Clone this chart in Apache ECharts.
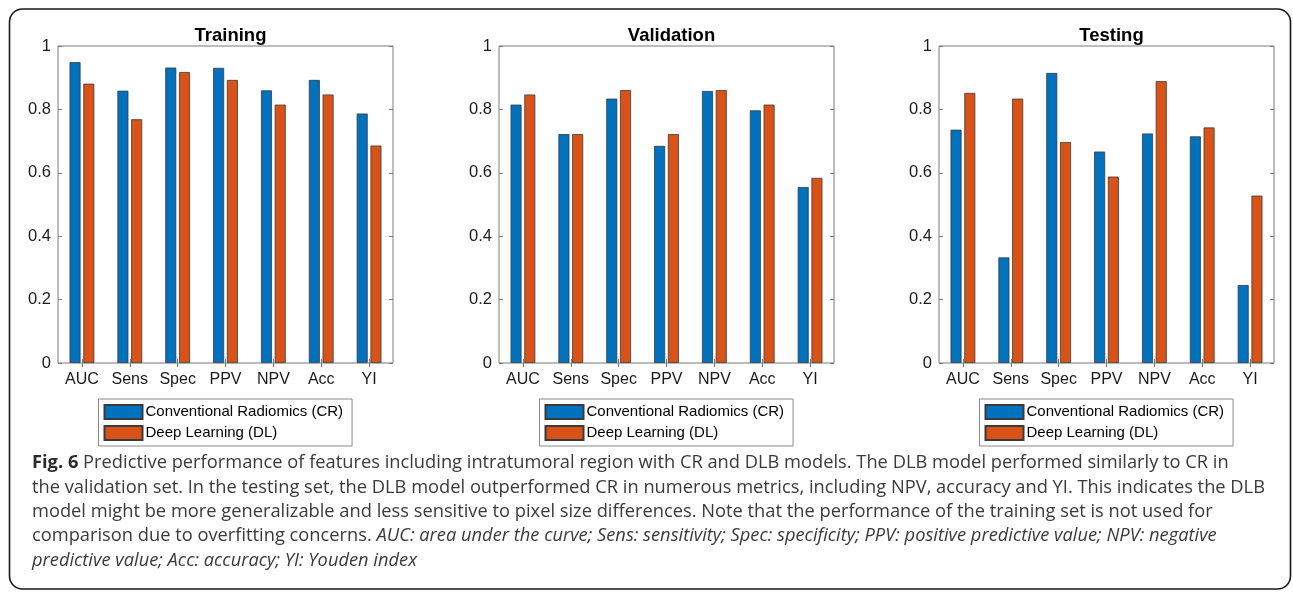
<!DOCTYPE html>
<html>
<head>
<meta charset="utf-8">
<script src="https://cdn.jsdelivr.net/npm/echarts@6/dist/echarts.min.js"></script>
<style>
  html, body { margin: 0; padding: 0; background: #fff; }
  #main { width: 1293px; height: 595px; }
</style>
</head>
<body>
<div id="main"></div>
<script>
var categories = ['AUC', 'Sens', 'Spec', 'PPV', 'NPV', 'Acc', 'YI'];
var panelTitles = ['Training', 'Validation', 'Testing'];
var seriesNames = ['Conventional Radiomics (CR)', 'Deep Learning (DL)'];

var trainCR = [0.949, 0.859, 0.932, 0.931, 0.860, 0.893, 0.787];
var trainDL = [0.881, 0.769, 0.918, 0.893, 0.815, 0.847, 0.686];
var valCR = [0.815, 0.722, 0.834, 0.685, 0.858, 0.797, 0.555];
var valDL = [0.847, 0.722, 0.861, 0.722, 0.861, 0.815, 0.584];
var testCR = [0.736, 0.333, 0.915, 0.667, 0.724, 0.715, 0.246];
var testDL = [0.852, 0.834, 0.697, 0.588, 0.889, 0.743, 0.528];

var yTicks = [0, 0.2, 0.4, 0.6, 0.8, 1];

var panelData = [[trainCR, trainDL], [valCR, valDL], [testCR, testDL]];
var panelLeft = [58, 499, 939];
var plotW = 335, plotTop = 46, plotH = 317;
var colors = ['#0072BD', '#D95319'];
var axisGray = '#7a7a7a';
var font = 'Liberation Sans, Arial, Helvetica, sans-serif';

var chart = echarts.init(document.getElementById('main'));

var grids = [], xAxes = [], yAxes = [], series = [], titles = [], legends = [];

panelTitles.forEach(function (name, p) {
  grids.push({
    left: panelLeft[p], top: plotTop, width: plotW, height: plotH,
    show: true, borderColor: axisGray, borderWidth: 1, backgroundColor: '#fff'
  });
  // bottom axis with labels, ticks pointing inward
  xAxes.push({
    type: 'category', gridIndex: p, position: 'bottom', data: categories,
    axisLine: { show: false },
    axisTick: { show: true, inside: true, alignWithLabel: true, length: 4, lineStyle: { color: axisGray } },
    axisLabel: { color: '#1a1a1a', fontSize: 16, fontFamily: font, margin: 9 }
  });
  // top mirror axis: ticks only
  xAxes.push({
    type: 'category', gridIndex: p, position: 'top', data: categories,
    axisLine: { show: false },
    axisTick: { show: true, inside: true, alignWithLabel: true, length: 4, lineStyle: { color: axisGray } },
    axisLabel: { show: false }
  });
  yAxes.push({
    type: 'value', gridIndex: p, position: 'left', min: 0, max: 1, interval: 0.2,
    axisLine: { show: false },
    axisTick: { show: true, inside: true, length: 4, lineStyle: { color: axisGray } },
    splitLine: { show: false },
    axisLabel: {
      color: '#1a1a1a', fontSize: 16.5, fontFamily: font, margin: 7,
      formatter: function (v) {
        var t = yTicks.filter(function (k) { return Math.abs(k - v) < 1e-9; })[0];
        return t === undefined ? '' : String(t);
      }
    }
  });
  yAxes.push({
    type: 'value', gridIndex: p, position: 'right', min: 0, max: 1, interval: 0.2,
    axisLine: { show: false },
    axisTick: { show: true, inside: true, length: 4, lineStyle: { color: axisGray } },
    splitLine: { show: false },
    axisLabel: { show: false }
  });

  panelData[p].forEach(function (vals, s) {
    series.push({
      name: seriesNames[s],
      type: 'bar',
      xAxisIndex: p * 2,
      yAxisIndex: p * 2,
      data: vals,
      barWidth: 11,
      barGap: '25%',
      itemStyle: { color: colors[s], borderColor: '#3a3a3a', borderWidth: 0.8 },
      emphasis: { disabled: true },
      animation: false
    });
  });

  titles.push({
    text: name,
    left: panelLeft[p] + plotW / 2,
    top: 21,
    textAlign: 'center',
    textStyle: { fontFamily: font, fontSize: 18.5, fontWeight: 'bold', color: '#000' }
  });

  legends.push({
    data: seriesNames,
    orient: 'vertical',
    left: panelLeft[p] + plotW / 2 - 127,
    top: 399,
    icon: 'rect',
    itemWidth: 38,
    itemHeight: 14,
    itemGap: 5,
    padding: [5, 9, 5, 5],
    borderColor: '#8a8a8a',
    borderWidth: 1,
    selectedMode: false,
    textStyle: { fontFamily: font, fontSize: 15, color: '#000', padding: [0, 0, 0, -2] }
  });
});

// caption lines
var capFont = 'Open Sans, Noto Sans, sans-serif';
var capSize = 18.3;
var capLines = [
  [['b', 'Fig. 6'], ['n', ' Predictive performance of features including intratumoral region with CR and DLB models. The DLB model performed similarly to CR in']],
  [['n', 'the validation set. In the testing set, the DLB model outperformed CR in numerous metrics, including NPV, accuracy and YI. This indicates the DLB']],
  [['n', 'model might be more generalizable and less sensitive to pixel size differences. Note that the performance of the training set is not used for']],
  [['n', 'comparison due to overfitting concerns. '], ['i', 'AUC: area under the curve; Sens: sensitivity; Spec: specificity; PPV: positive predictive value; NPV: negative']],
  [['i', 'predictive value; Acc: accuracy; YI: Youden index']]
];
var capGraphics = capLines.map(function (parts, i) {
  return {
    type: 'text',
    left: 32,
    top: 454 + i * 24.4,
    style: {
      text: parts.map(function (p) { return '{' + p[0] + '|' + p[1] + '}'; }).join(''),
      rich: {
        b: { fontFamily: capFont, fontSize: capSize, fontWeight: 'bold', fill: '#2b2b2b' },
        n: { fontFamily: capFont, fontSize: capSize, fill: '#3a3a3a' },
        i: { fontFamily: capFont, fontSize: capSize, fontStyle: 'italic', fill: '#3a3a3a' }
      }
    }
  };
});

chart.setOption({
  backgroundColor: '#fff',
  animation: false,
  title: titles,
  legend: legends,
  grid: grids,
  xAxis: xAxes,
  yAxis: yAxes,
  series: series,
  graphic: [
    {
      type: 'rect',
      shape: { x: 9.5, y: 9, width: 1281, height: 580, r: 13 },
      style: { fill: 'none', stroke: '#1a1a1a', lineWidth: 1.6 },
      z: -1
    }
  ].concat(capGraphics)
});
</script>
</body>
</html>
